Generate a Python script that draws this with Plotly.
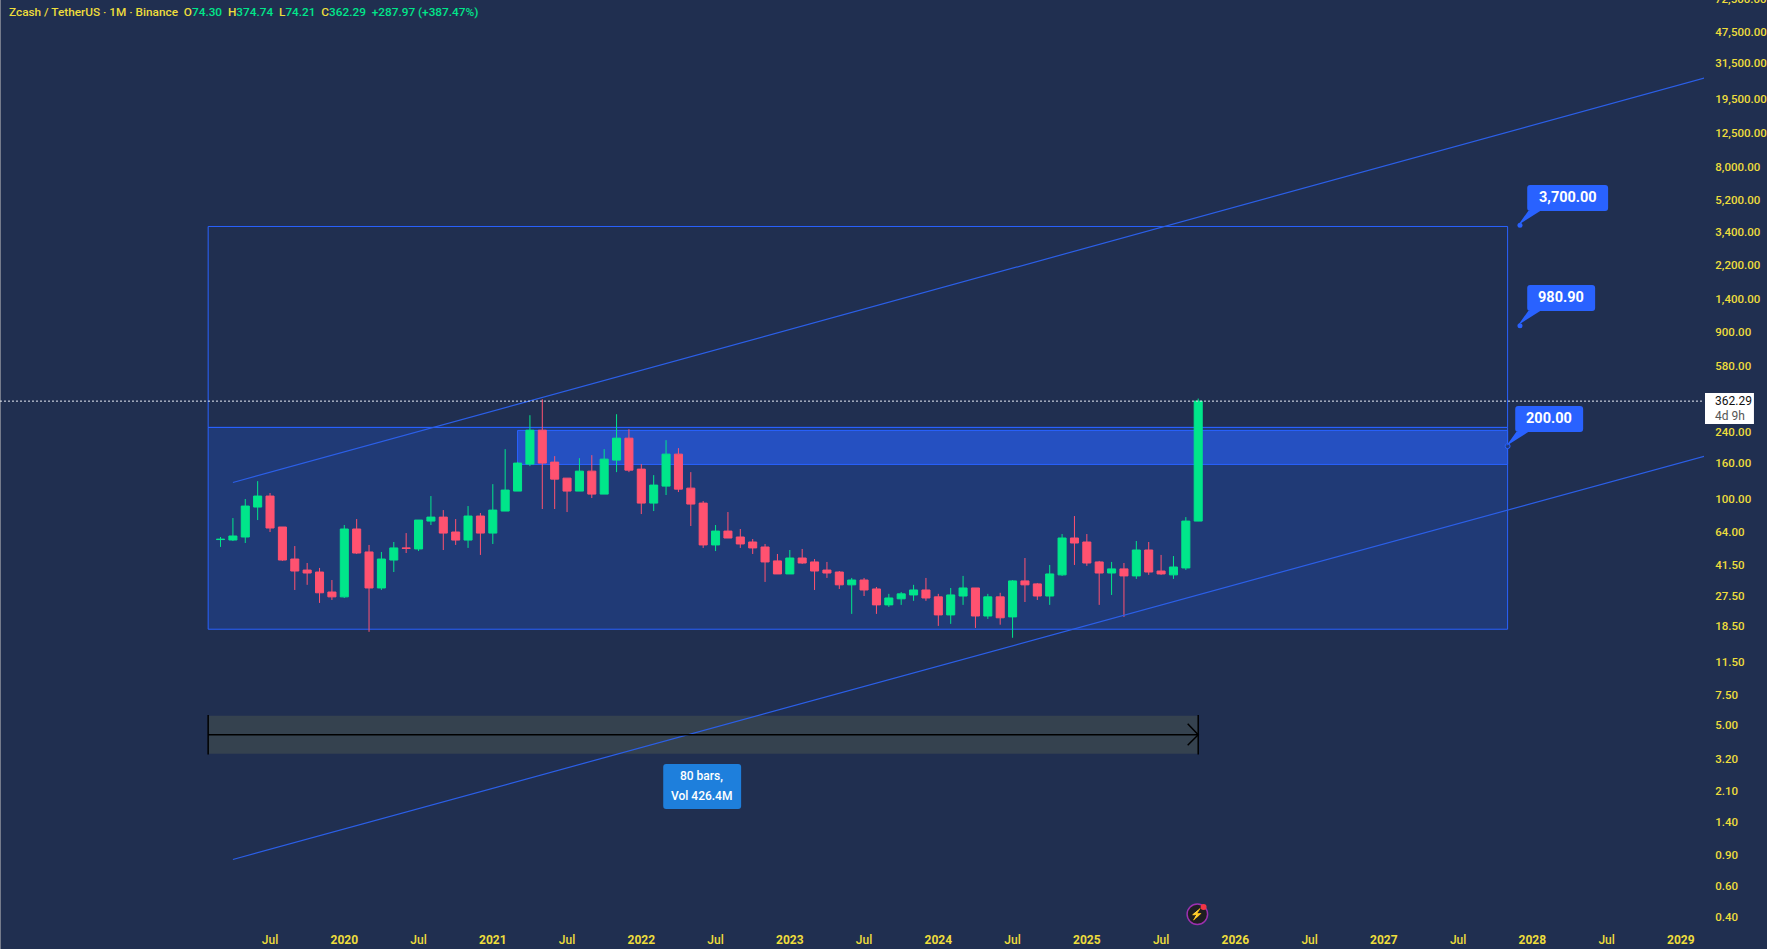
import plotly.graph_objects as go

# monthly bars, Mar 2019 to Oct 2025
opens = [58.2, 57.85, 60.2, 89.4, 103.4, 68.7, 45.0, 38.9, 37.9, 29.1,
         27.3, 66.9, 49.4, 30.7, 44.4, 52.1, 51.4, 74.3, 78.3, 64.3,
         57.8, 79.4, 63.4, 84.8, 110.4, 157.7, 246.8, 161.9, 131.0, 110.4,
         143.7, 106.1, 166.2, 222.1, 147.6, 94.2, 117.9, 179.9, 114.8, 94.2,
         54.2, 65.1, 60.2, 56.35, 52.75, 43.9, 36.95, 45.6, 43.3, 38.9,
         37.9, 32.0, 34.1, 30.3, 24.55, 26.6, 28.0, 29.9, 27.3, 21.5,
         27.6, 30.7, 21.2, 27.3, 20.95, 33.7, 32.4, 27.6, 36.5, 59.4,
         56.35, 43.3, 37.4, 39.5, 36.0, 50.7, 38.4, 36.5, 40.0, 74.30]
highs = [60.2, 77.3, 99.4, 125.9, 107.6, 68.7, 53.4, 42.7, 40.0, 34.1,
         70.5, 76.3, 54.2, 49.4, 56.35, 63.4, 75.3, 103.4, 85.9, 76.3,
         90.6, 82.6, 121.0, 192.1, 161.9, 300.8, 371.4, 175.2, 131.0, 170.6,
         177.5, 192.1, 304.8, 250.1, 157.7, 136.3, 216.3, 194.7, 141.8, 96.8,
         70.5, 83.7, 66.9, 58.6, 54.9, 48.1, 50.7, 51.4, 45.0, 43.3,
         38.4, 35.05, 35.05, 31.1, 28.4, 29.1, 32.0, 35.05, 28.4, 30.7,
         36.0, 30.7, 28.4, 28.8, 34.1, 45.6, 32.8, 41.6, 62.6, 79.4,
         62.6, 43.9, 43.3, 42.7, 57.1, 56.35, 47.5, 46.8, 78.3, 374.74]
lows = [52.8, 57.1, 55.6, 75.3, 64.3, 43.9, 29.9, 32.0, 25.2, 26.2,
        26.9, 48.1, 17.2, 29.9, 37.9, 48.7, 50.0, 70.5, 50.7, 54.2,
        52.1, 47.5, 54.9, 84.8, 110.4, 153.6, 87.1, 87.1, 83.7, 110.4,
        100.7, 106.1, 141.8, 141.8, 81.5, 84.8, 104.8, 109.0, 69.6, 52.1,
        50.0, 59.4, 52.1, 48.1, 33.25, 36.95, 36.95, 42.2, 29.9, 35.05,
        30.3, 21.8, 27.6, 21.8, 23.9, 24.55, 25.9, 25.9, 18.6, 19.1,
        24.55, 18.1, 20.4, 18.9, 15.9, 25.5, 26.2, 24.55, 36.0, 41.6,
        41.1, 24.55, 28.0, 20.95, 34.6, 36.5, 36.5, 34.6, 38.95, 74.21]
closes = [58.4, 61.0, 90.6, 103.4, 67.8, 44.4, 38.4, 37.4, 28.8, 27.3,
          66.9, 48.7, 30.7, 45.0, 52.1, 51.8, 75.3, 78.3, 63.4, 57.8,
          79.4, 63.4, 85.9, 111.9, 159.8, 246.8, 159.8, 129.3, 110.4, 143.7,
          106.1, 168.4, 222.1, 145.6, 94.2, 119.5, 179.9, 113.3, 93.0, 54.2,
          65.1, 59.4, 54.9, 52.1, 43.3, 36.95, 45.6, 42.7, 38.4, 37.4,
          32.0, 34.1, 29.9, 24.55, 26.9, 28.4, 29.9, 26.9, 21.5, 28.0,
          30.7, 21.2, 27.3, 20.7, 33.7, 32.0, 27.6, 36.95, 59.4, 55.6,
          42.7, 37.4, 39.5, 36.0, 50.7, 37.9, 36.95, 40.5, 74.3, 362.29]
bars = list(range(len(opens)))

price_ticks = [47500, 31500, 19500, 12500, 8000, 5200, 3400, 2200, 1400,
               900, 580, 240, 160, 100, 64, 41.5, 27.5, 18.5, 11.5,
               7.5, 5, 3.2, 2.1, 1.4, 0.9, 0.6, 0.4]
time_ticks = [4, 10, 16, 22, 28, 34, 40, 46, 52, 58, 64, 70, 76, 82, 88, 94, 100, 106, 112, 118]
time_labels = ['Jul', '2020', 'Jul', '2021', 'Jul', '2022', 'Jul', '2023', 'Jul', '2024',
               'Jul', '2025', 'Jul', '2026', 'Jul', '2027', 'Jul', '2028', 'Jul', '2029']

# drawings on the chart
upper_x, upper_y = [1, 120], [123.7, 25960]
lower_x, lower_y = [1, 120], [0.85, 175.9]
box_left, box_right = -1, 104
box_top, box_mid, box_bottom = 3640, 256, 17.8
band_left, band_top, band_bottom = 24, 246, 157
measure_end = 79
measure_top, measure_mid, measure_bottom = 5.68, 4.42, 3.44
last_price = 362.29

BG = '#202f50'
BLUE = '#2962ff'
GREEN = '#00e68a'
RED = '#ff5270'
YELLOW = '#eedd3c'
FONT = 'Roboto'

PLOT_W, PLOT_H = 1706, 925


def px(x):
    return x / PLOT_W


def py(y):
    return 1 - y / PLOT_H


def rounded_path(x0, y0, x1, y1, r=3, tail=None):
    # box in page pixels, tail is an optional (x, y) point it leans to from the lower left
    p = f'M{px(x0 + r)},{py(y0)} L{px(x1 - r)},{py(y0)} Q{px(x1)},{py(y0)} {px(x1)},{py(y0 + r)} '
    p += f'L{px(x1)},{py(y1 - r)} Q{px(x1)},{py(y1)} {px(x1 - r)},{py(y1)} '
    if tail:
        p += f'L{px(x0 + 13)},{py(y1)} L{px(tail[0])},{py(tail[1])} L{px(x0 + 1)},{py(y1)} '
    p += f'L{px(x0 + r)},{py(y1)} Q{px(x0)},{py(y1)} {px(x0)},{py(y1 - r)} '
    p += f'L{px(x0)},{py(y0 + r)} Q{px(x0)},{py(y0)} {px(x0 + r)},{py(y0)} Z'
    return p


fig = go.Figure()

fig.add_trace(go.Candlestick(
    x=bars, open=opens, high=highs, low=lows, close=closes,
    increasing=dict(line=dict(color=GREEN, width=1), fillcolor=GREEN),
    decreasing=dict(line=dict(color=RED, width=1), fillcolor=RED),
    whiskerwidth=0, hoverinfo='skip',
))

for xs, ys in [(upper_x, upper_y), (lower_x, lower_y)]:
    fig.add_trace(go.Scatter(x=xs, y=ys, mode='lines', line=dict(color='#2b5fe8', width=1.2), hoverinfo='skip'))

# measure arrow
fig.add_trace(go.Scatter(x=[box_left, measure_end], y=[measure_mid, measure_mid], mode='lines',
                         line=dict(color='black', width=1.5), hoverinfo='skip'))
fig.add_trace(go.Scatter(x=[measure_end - 0.85, measure_end, measure_end - 0.85], y=[5.11, measure_mid, 3.84],
                         mode='lines', line=dict(color='black', width=1.5), hoverinfo='skip'))
for x in [box_left, measure_end]:
    fig.add_trace(go.Scatter(x=[x, x], y=[5.73, 3.40], mode='lines', line=dict(color='black', width=1.5),
                             hoverinfo='skip'))

# callout anchors
fig.add_trace(go.Scatter(x=[105, 105], y=[3700, 980.9], mode='markers',
                         marker=dict(color=BLUE, size=5), hoverinfo='skip'))
fig.add_trace(go.Scatter(x=[104], y=[200], mode='markers',
                         marker=dict(color='#203a7a', size=5, line=dict(color=BLUE, width=1)), hoverinfo='skip'))

shapes = [
    dict(type='rect', xref='paper', yref='paper', x0=0, x1=px(1), y0=py(949), y1=1,
         fillcolor='#767c8c', line=dict(width=0)),
    dict(type='rect', x0=box_left, x1=box_right, y0=box_mid, y1=box_top, layer='below', line=dict(color=BLUE, width=1)),
    dict(type='rect', x0=box_left, x1=box_right, y0=box_bottom, y1=box_mid, layer='below',
         fillcolor='rgba(30,98,255,0.22)', line=dict(color=BLUE, width=1)),
    dict(type='rect', x0=band_left, x1=box_right, y0=band_bottom, y1=band_top, layer='below',
         fillcolor='rgba(41,98,255,0.55)', line=dict(color=BLUE, width=1)),
    dict(type='rect', x0=box_left, x1=measure_end, y0=measure_bottom, y1=measure_top, layer='below',
         fillcolor='#35424f', line=dict(width=0)),
    dict(type='line', xref='paper', x0=0, x1=1, y0=last_price, y1=last_price,
         line=dict(color='#e8ecf4', width=1, dash='2px,2px')),
    # price label
    dict(type='rect', xref='paper', yref='paper', x0=px(1707), x1=px(1756), y0=py(424), y1=py(393),
         fillcolor='white', line=dict(width=0)),
    # callouts
    dict(type='path', xref='paper', yref='paper', fillcolor=BLUE, line=dict(width=0),
         path=rounded_path(1529, 185, 1610, 211, tail=(1520, 225))),
    dict(type='path', xref='paper', yref='paper', fillcolor=BLUE, line=dict(width=0),
         path=rounded_path(1529, 285, 1597, 311, tail=(1520, 325))),
    dict(type='path', xref='paper', yref='paper', fillcolor=BLUE, line=dict(width=0),
         path=rounded_path(1517, 406, 1585, 432, tail=(1508, 446))),
    dict(type='path', xref='paper', yref='paper', fillcolor='#1e7fdc', line=dict(width=0),
         path=rounded_path(664, 764, 742, 809)),
    # replay icon
    dict(type='circle', xref='paper', yref='paper', x0=px(1188.5), x1=px(1209), y0=py(924.5), y1=py(904),
         fillcolor='#1e1e22', line=dict(color='#9c30b0', width=1.5)),
    dict(type='circle', xref='paper', yref='paper', x0=px(1202), x1=px(1208), y0=py(910), y1=py(904),
         fillcolor='#f23645', line=dict(width=0)),
]


def label(text, x, y, color='white', size=13, anchor='center', weight=None):
    font = dict(family=FONT, size=size, color=color)
    if weight:
        font['weight'] = weight
    return dict(text=text, xref='paper', yref='paper', x=px(x), y=py(y), xanchor=anchor, yanchor='middle',
                showarrow=False, font=font)


header = (
    f'Zcash / TetherUS · 1M · Binance&nbsp;&nbsp;'
    f'O<span style="color:{GREEN}">74.30</span>&nbsp;&nbsp;'
    f'H<span style="color:{GREEN}">374.74</span>&nbsp;&nbsp;'
    f'L<span style="color:{GREEN}">74.21</span>&nbsp;&nbsp;'
    f'C<span style="color:{GREEN}">362.29</span>&nbsp;&nbsp;'
    f'<span style="color:{GREEN}">+287.97 (+387.47%)</span>'
)

annotations = [
    label(header, 7, 12.5, color=YELLOW, size=11.8, anchor='left', weight=500),
    label('3,700.00', 1570, 197, size=14.5, weight=700),
    label('980.90', 1563, 297, size=14.5, weight=700),
    label('200.00', 1551, 418, size=14.5, weight=700),
    label('80 bars,', 702, 776, size=12, weight=500),
    label('Vol 426.4M', 702, 796, size=12, weight=500),
    label('362.29', 1715, 401, color='#111111', size=12, anchor='left'),
    label('4d 9h', 1715, 416, color='#555555', size=12, anchor='left'),
    label('⚡', 1198.6, 914.5, color='#a040c0', size=11),
    # top tick sits right on the page edge, half of it is cut off
    label('72,500.00', 1715, -1, color=YELLOW, size=11.5, anchor='left', weight=500),
]

fig.update_layout(
    width=1767, height=949,
    margin=dict(l=0, r=61, t=0, b=24),
    paper_bgcolor=BG, plot_bgcolor=BG,
    showlegend=False,
    boxgap=0.35, boxgroupgap=0,
    shapes=shapes,
    annotations=annotations,
    xaxis=dict(
        range=[-17.82, 119.87], rangeslider=dict(visible=False),
        tickmode='array', tickvals=time_ticks,
        ticktext=[f'<b>{t}</b>' if t != 'Jul' else t for t in time_labels],
        tickfont=dict(family=FONT, size=12, color=YELLOW, weight=500),
        showgrid=False, zeroline=False, showline=False, ticks='outside', ticklen=4, tickcolor=BG,
    ),
    yaxis=dict(
        type='log', side='right', range=[-0.4465, 4.8605],
        tickmode='array', tickvals=price_ticks,
        ticktext=[f'{t:,.2f}' for t in price_ticks],
        tickfont=dict(family=FONT, size=11.5, color=YELLOW, weight=500),
        showgrid=False, zeroline=False, showline=False, ticks='outside', ticklen=8, tickcolor=BG,
    ),
)

fig.write_html("out.html", config=dict(displayModeBar=False), post_script="document.body.style.margin='0';")
